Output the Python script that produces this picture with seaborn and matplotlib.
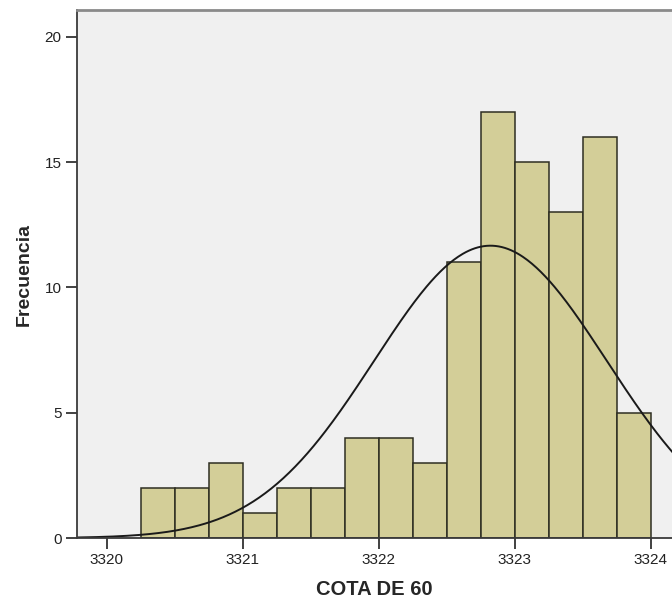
import numpy as np
import pandas as pd
import matplotlib
matplotlib.use("Agg")
import matplotlib.pyplot as plt
import seaborn as sns

# Data
bin_edges = [3320.25, 3320.50, 3320.75, 3321.00, 3321.25, 3321.50, 3321.75, 3322.00,
             3322.25, 3322.50, 3322.75, 3323.00, 3323.25, 3323.50, 3323.75, 3324.00]
counts = [2, 2, 3, 1, 2, 2, 4, 4, 3, 11, 17, 15, 13, 16, 5]
curve_mean = 3322.82
curve_sd = 0.855
x_ticks = [3320, 3321, 3322, 3323, 3324]
y_ticks = [0, 5, 10, 15, 20]
x_label = "COTA DE 60"
y_label = "Frecuencia"

sns.set_style("white")
plt.rcParams['font.family'] = ['Liberation Sans', 'DejaVu Sans']

centers = [(a + b) / 2 for a, b in zip(bin_edges[:-1], bin_edges[1:])]
df = pd.DataFrame({"cota": centers, "n": counts})

fig = plt.figure(figsize=(6.72, 5.99), dpi=100)
ax = fig.add_axes([77 / 672, 61 / 599, 1 - 77 / 672, (538 - 10) / 599])
ax.set_facecolor("#F0F0F0")

sns.histplot(data=df, x="cota", weights="n", bins=bin_edges, ax=ax,
             color="#D3CE98", alpha=1.0, edgecolor="#2E2E22", linewidth=1.1)

n_total = sum(counts)
width = bin_edges[1] - bin_edges[0]
xs = np.linspace(3319.78, 3324.2, 400)
ys = n_total * width / (curve_sd * np.sqrt(2 * np.pi)) * np.exp(-0.5 * ((xs - curve_mean) / curve_sd) ** 2)
sns.lineplot(x=xs, y=ys, ax=ax, color="#1a1a1a", linewidth=1.4)

ax.set_xlim(3319.78, 3324.155)
ax.set_ylim(0, 21.07)
ax.set_xticks(x_ticks)
ax.set_yticks(y_ticks)
ax.set_xticklabels([str(t) for t in x_ticks])
ax.set_yticklabels([str(t) for t in y_ticks])
ax.tick_params(axis="both", direction="out", length=8, width=1.3, color="#333333",
               labelsize=11, labelcolor="#222222", pad=3, left=True, bottom=True)

ax.set_xlabel(x_label, fontsize=14.5, fontweight="bold", labelpad=9)
ax.set_ylabel(y_label, fontsize=14, fontweight="bold", labelpad=8.5)

for side in ["left", "bottom"]:
    ax.spines[side].set_color("#3a3a3a")
    ax.spines[side].set_linewidth(1.3)
ax.spines["top"].set_color("#8a8a8a")
ax.spines["top"].set_linewidth(2)
ax.spines["right"].set_visible(False)

fig.savefig("out.png", dpi=100)
